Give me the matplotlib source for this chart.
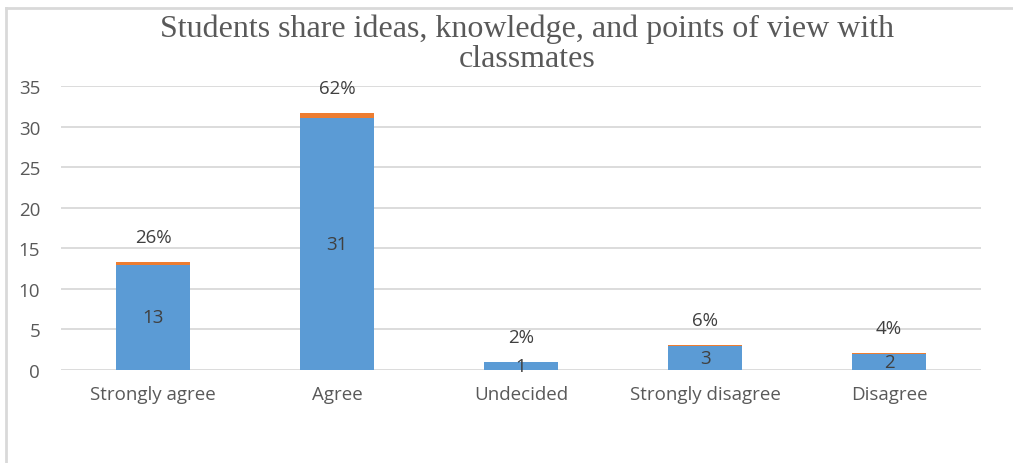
import numpy as np
import matplotlib.pyplot as plt

# data
categories = ['Strongly agree', 'Agree', 'Undecided', 'Strongly disagree', 'Disagree']
counts = [13, 31, 1, 3, 2]
shares = [0.26, 0.62, 0.02, 0.06, 0.04]
share_labels = ['26%', '62%', '2%', '6%', '4%']
yticks = [0, 5, 10, 15, 20, 25, 30, 35]

blue = '#5B9BD5'
orange = '#ED7D31'
grid_c = '#D9D9D9'
text_c = '#595959'

fig = plt.figure(figsize=(10.13, 4.64), dpi=100)

# chart border (top + left visible)
fig.add_artist(plt.Line2D([6 / 1013, 6 / 1013], [0, 1 - 9 / 464], transform=fig.transFigure,
                          color=grid_c, lw=2))
fig.add_artist(plt.Line2D([6 / 1013, 1], [1 - 9 / 464, 1 - 9 / 464], transform=fig.transFigure,
                          color=grid_c, lw=2))

ax = fig.add_axes([61 / 1013, 1 - 371 / 464, 920 / 1013, 284 / 464])
x = np.arange(len(categories))
ax.bar(x, counts, width=0.4, color=blue, zorder=3)
ax.bar(x, shares, width=0.4, bottom=counts, color=orange, zorder=3)

ax.set_xlim(-0.5, len(categories) - 0.5)
ax.set_ylim(0, 35)
ax.set_yticks(yticks)
ax.set_xticks(x)
ax.set_xticklabels(categories)
ax.tick_params(length=0, labelsize=13.5, labelcolor=text_c)
ax.tick_params(axis='x', pad=11)
ax.tick_params(axis='y', pad=15)
for lab in ax.get_xticklabels() + ax.get_yticklabels():
    lab.set_fontfamily('Open Sans')
ax.yaxis.grid(True, color=grid_c, lw=1.3, zorder=0)
for s in ax.spines.values():
    s.set_visible(False)

for i in range(len(categories)):
    ax.text(x[i], counts[i] / 2, str(counts[i]), ha='center', va='center',
            fontsize=13.5, color='#404040', family='Open Sans', zorder=4)
    ax.annotate(share_labels[i], (x[i], counts[i] + shares[i]), xytext=(0, 18),
                textcoords='offset points', ha='center', va='center',
                fontsize=13.5, color='#404040', family='Open Sans')

fig.text(527 / 1013, 1 - 44 / 464,
         'Students share ideas, knowledge, and points of view with\nclassmates',
         ha='center', va='center', fontsize=23, family='Liberation Serif',
         color=text_c, linespacing=1.05)

fig.savefig('out.png', dpi=100)
